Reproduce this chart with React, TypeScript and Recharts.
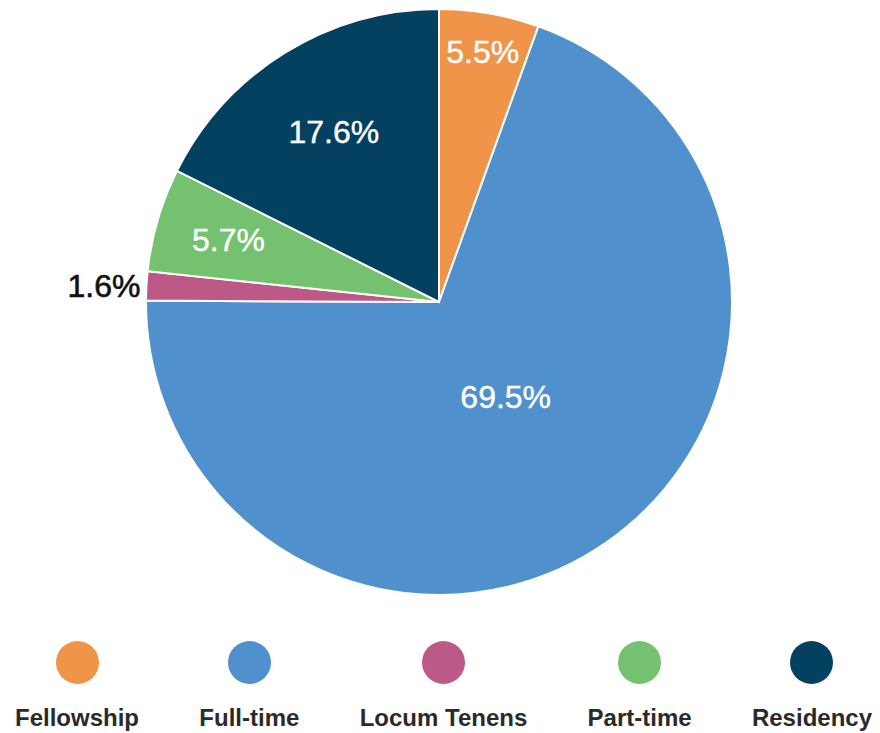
import { PieChart, Pie, Cell } from "recharts";

const categories = ["Fellowship", "Full-time", "Locum Tenens", "Part-time", "Residency"];
const shares = [5.5, 69.5, 1.6, 5.7, 17.6];
const colors = ["#F0944A", "#5091CD", "#BC5987", "#74C26F", "#044161"];

const data = categories.map((name, i) => ({ name, value: shares[i] }));

const RAD = Math.PI / 180;
const FONT = "'Liberation Sans', Arial, Helvetica, sans-serif";
const LABEL_SIZE = 32;

// inside labels: big slices sit nearer the centre, thin ones get pushed out until the text fits
const renderLabel = (props: any) => {
  const { cx, cy, midAngle, outerRadius, percent, value } = props;
  const text = `${Number(value).toFixed(1)}%`;
  const cos = Math.cos(-midAngle * RAD);
  const sin = Math.sin(-midAngle * RAD);

  if (percent < 0.03) {
    const r = outerRadius + 6;
    return (
      <text x={cx + r * cos} y={cy + r * sin} fill="#111" textAnchor="end" dominantBaseline="central"
        fontSize={LABEL_SIZE} fontFamily={FONT} stroke="#111" strokeWidth={0.6}>
        {text}
      </text>
    );
  }

  const w = text.length * 0.57 * LABEL_SIZE;
  const h = 0.72 * LABEL_SIZE;
  const alpha = percent * 2 * Math.PI;
  const extent = w * Math.abs(Math.sin(midAngle * RAD)) + h * Math.abs(Math.cos(midAngle * RAD));
  const rBase = outerRadius * (0.78 - 0.55 * percent);
  const rFit = (extent + 12) / alpha;
  const r = Math.min(Math.max(rBase, rFit), outerRadius - 30);

  return (
    <text x={cx + r * cos} y={cy + r * sin} fill="#fff" textAnchor="middle" dominantBaseline="central"
      fontSize={LABEL_SIZE} fontFamily={FONT} stroke="#fff" strokeWidth={0.4}>
      {text}
    </text>
  );
};

export default function App() {
  return (
    <div style={{ position: "relative", width: 880, height: 733, background: "#fff", fontFamily: FONT }}>
      <style>{`body{margin:0}`}</style>
      <PieChart width={880} height={620} margin={{ top: 0, right: 0, bottom: 0, left: 0 }}>
        <Pie
          data={data}
          dataKey="value"
          nameKey="name"
          cx={439}
          cy={302}
          outerRadius={293}
          startAngle={90}
          endAngle={-270}
          stroke="#fff"
          strokeWidth={2}
          label={renderLabel}
          labelLine={false}
          isAnimationActive={false}
        >
          {data.map((d, i) => (
            <Cell key={d.name} fill={colors[i]} />
          ))}
        </Pie>
      </PieChart>
      <div
        style={{
          position: "absolute",
          left: 15,
          right: 8,
          top: 641,
          display: "flex",
          justifyContent: "space-between",
        }}
      >
        {categories.map((c, i) => (
          <div key={c} style={{ display: "flex", flexDirection: "column", alignItems: "center" }}>
            <div style={{ width: 43, height: 43, borderRadius: "50%", background: colors[i] }} />
            <div style={{ marginTop: 20, fontSize: 24, fontWeight: 700, color: "#2a2a2a", whiteSpace: "nowrap", lineHeight: "28px" }}>{c}</div>
          </div>
        ))}
      </div>
    </div>
  );
}
